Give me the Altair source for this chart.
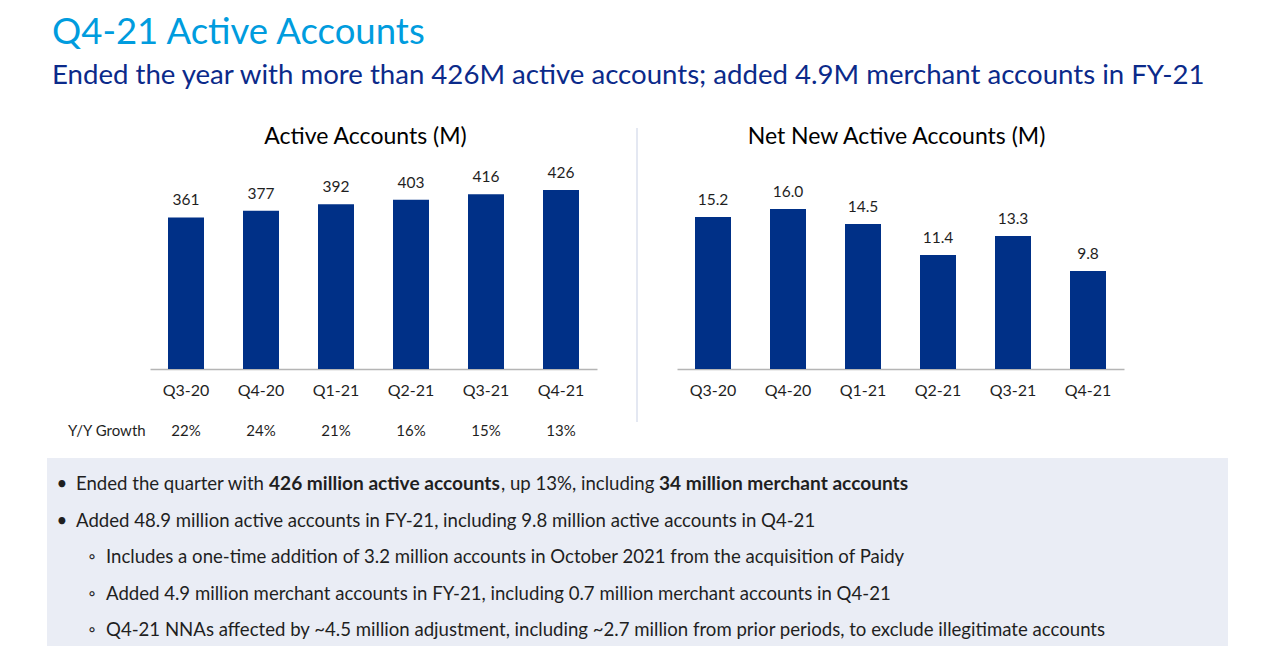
import altair as alt
import pandas as pd

quarters = ["Q3-20", "Q4-20", "Q1-21", "Q2-21", "Q3-21", "Q4-21"]
active_accounts = [361, 377, 392, 403, 416, 426]
active_labels = ["361", "377", "392", "403", "416", "426"]
net_new = [15.2, 16.0, 14.5, 11.4, 13.3, 9.8]
net_new_labels = ["15.2", "16.0", "14.5", "11.4", "13.3", "9.8"]
yoy_growth = ["22%", "24%", "21%", "16%", "15%", "13%"]

main_title = "Q4-21 Active Accounts"
main_subtitle = "Ended the year with more than 426M active accounts; added 4.9M merchant accounts in FY-21"
left_title = "Active Accounts (M)"
right_title = "Net New Active Accounts (M)"
yoy_label = "Y/Y Growth"

line1_segments = ["Ended the quarter with ", "426 million active accounts", ", up 13%, including ", "34 million merchant accounts"]
line1_bold = [False, True, False, True]
top_bullets = ["Added 48.9 million active accounts in FY-21, including 9.8 million active accounts in Q4-21"]
sub_bullets = [
    "Includes a one-time addition of 3.2 million accounts in October 2021 from the acquisition of Paidy",
    "Added 4.9 million merchant accounts in FY-21, including 0.7 million merchant accounts in Q4-21",
    "Q4-21 NNAs affected by ~4.5 million adjustment, including ~2.7 million from prior periods, to exclude illegitimate accounts",
]

FONT = "Lato"
NAVY = "#003087"
TEXT = "#1f1f1f"
BODY = 18.6
BOLD = 19.1
W, H = 447, 210

left_df = pd.DataFrame({"q": quarters, "v": active_accounts, "lab": active_labels, "g": yoy_growth})
right_df = pd.DataFrame({"q": quarters, "v": net_new, "lab": net_new_labels})

xenc = alt.X("q:N", sort=quarters, title=None,
             scale=alt.Scale(paddingInner=0.52, paddingOuter=0.24),
             axis=alt.Axis(labelAngle=0, ticks=False, domainColor="#b5b5b5", domainWidth=1.5,
                           labelFont=FONT, labelFontSize=16, labelColor=TEXT, labelPadding=13, grid=False))


def bar_layers(df, dmax):
    base = alt.Chart(df).encode(
        x=xenc,
        y=alt.Y("v:Q", scale=alt.Scale(domain=[0, dmax], nice=False), axis=None),
    )
    bars = base.mark_bar(color=NAVY)
    labels = base.mark_text(baseline="bottom", dy=-9, font=FONT, fontSize=15.5, color=TEXT).encode(text="lab:N")
    return bars, labels


def panel_title(t, xoff):
    return alt.Chart(pd.DataFrame({"t": [t]})).mark_text(
        align="center", baseline="middle", font=FONT, fontSize=23, color="#000").encode(
        x=alt.value(W / 2 + xoff), y=alt.value(-22), text="t:N")


# ---- left panel: bars, Y/Y growth row
lb, ll = bar_layers(left_df, 500)
yoy = alt.Chart(left_df).mark_text(baseline="middle", font=FONT, fontSize=15, color=TEXT).encode(
    x=alt.X("q:N", sort=quarters), y=alt.value(H + 62), text="g:N")
yoy_lab = alt.Chart(pd.DataFrame({"t": [yoy_label]})).mark_text(
    align="left", baseline="middle", font=FONT, fontSize=15, color=TEXT).encode(
    x=alt.value(-82), y=alt.value(H + 62), text="t:N")
bar_part = alt.layer(lb, ll, yoy, yoy_lab, panel_title(left_title, -8))

# ---- bullets box, hung below the left panel (own y scale)
BOX_L, BOX_R = -103, 1078
BOX_T, BOX_B = H + 89, H + 89 + 188
yscale = alt.Scale(domain=[-8.9041, -3.1507], reverse=True, nice=False, zero=False)
box = alt.Chart(pd.DataFrame({"t": [0]})).mark_rect(color="#eaedf5").encode(
    x=alt.value(BOX_L), x2=alt.value(BOX_R), y=alt.value(BOX_T), y2=alt.value(BOX_B))

seg_x = [BOX_L + 29, BOX_L + 222, BOX_L + 454, BOX_L + 612]
seg_layers = []
for i, (s, b) in enumerate(zip(line1_segments, line1_bold)):
    seg_layers.append(
        alt.Chart(pd.DataFrame({"t": [s], "row": [0]})).mark_text(
            align="left", baseline="middle", font=FONT, fontSize=BOLD if b else BODY, color=TEXT,
            fontWeight="bold" if b else "normal").encode(
            x=alt.value(seg_x[i]), y=alt.Y("row:Q", scale=yscale, axis=None), text="t:N"))

top_df = pd.DataFrame({"t": top_bullets, "row": [1]})
sub_df = pd.DataFrame({"t": sub_bullets, "row": [2, 3, 4]})
dots_df = pd.DataFrame({"row": [0, 1]})
circ_df = pd.DataFrame({"row": [2, 3, 4]})

l_top = alt.Chart(top_df).mark_text(align="left", baseline="middle", font=FONT, fontSize=BODY, color=TEXT).encode(
    x=alt.value(BOX_L + 29), y=alt.Y("row:Q", scale=yscale, axis=None), text="t:N")
l_sub = alt.Chart(sub_df).mark_text(align="left", baseline="middle", font=FONT, fontSize=BODY, color=TEXT).encode(
    x=alt.value(BOX_L + 59), y=alt.Y("row:Q", scale=yscale, axis=None), text="t:N")
dots = alt.Chart(dots_df).mark_text(text="•", align="center", baseline="middle", font=FONT, fontSize=BODY, color=TEXT).encode(
    x=alt.value(BOX_L + 15), y=alt.Y("row:Q", scale=yscale, axis=None))
circs = alt.Chart(circ_df).mark_text(text="◦", align="center", baseline="middle", font=FONT, fontSize=BODY, color=TEXT).encode(
    x=alt.value(BOX_L + 45), y=alt.Y("row:Q", scale=yscale, axis=None))

bullet_part = alt.layer(box, *seg_layers, l_top, l_sub, dots, circs)

left = alt.layer(bullet_part, bar_part).resolve_scale(y="independent").properties(width=W, height=H)

# ---- right panel
rb, rl = bar_layers(right_df, 21)
sep = alt.Chart(pd.DataFrame({"t": [0]})).mark_rule(color="#e4e8f2", strokeWidth=2).encode(
    x=alt.value(-40), y=alt.value(-31), y2=alt.value(H + 53))
right = alt.layer(sep, rb, rl, panel_title(right_title, -4)).properties(width=W, height=H)

chart = alt.hconcat(left, right, spacing=80, bounds="flush").properties(
    padding={"left": 39, "top": 6, "right": 0, "bottom": 0},
    title=alt.TitleParams(main_title, subtitle=main_subtitle, anchor="start", frame="bounds", dx=5,
                          font=FONT, fontSize=36.5, fontWeight="normal", color="#009cde",
                          subtitleFont=FONT, subtitleFontSize=27.6, subtitleColor="#0b2a8a",
                          subtitlePadding=10.5, offset=36.8),
).configure_view(stroke=None)

chart.save("out.html", embed_options={"renderer": "svg", "actions": False})
